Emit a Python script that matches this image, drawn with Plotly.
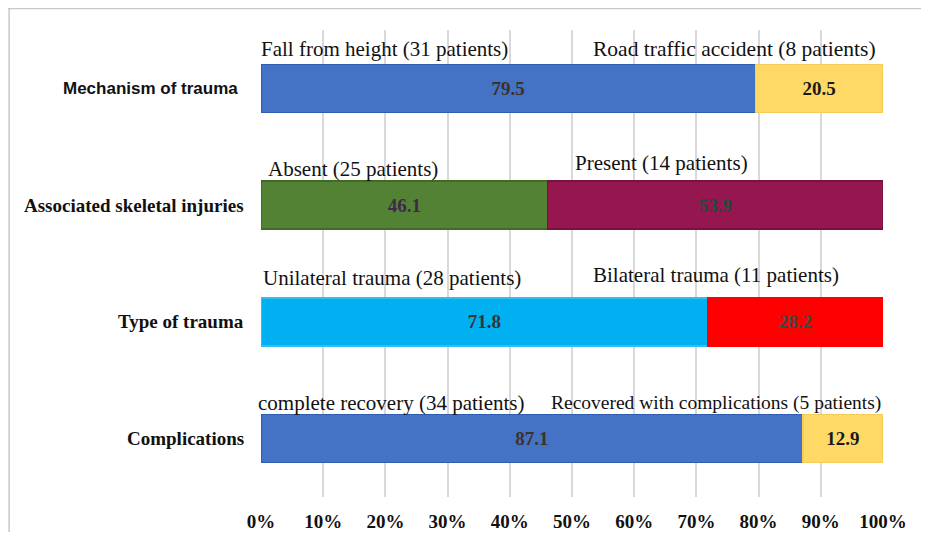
import plotly.graph_objects as go

categories = ["Mechanism of trauma", "Associated skeletal injuries", "Type of trauma", "Complications"]
first_values = [79.5, 46.1, 71.8, 87.1]
second_values = [20.5, 53.9, 28.2, 12.9]
first_labels = ["Fall from height (31 patients)", "Absent (25 patients)",
                "Unilateral trauma (28 patients)", "complete recovery (34 patients)"]
second_labels = ["Road traffic accident (8 patients)", "Present (14 patients)",
                 "Bilateral trauma (11 patients)", "Recovered with complications (5 patients)"]
tick_vals = [0, 10, 20, 30, 40, 50, 60, 70, 80, 90, 100]
tick_text = ["0%", "10%", "20%", "30%", "40%", "50%", "60%", "70%", "80%", "90%", "100%"]

first_colors = ["#4472C4", "#548235", "#00B0F0", "#4472C4"]
first_edges = ["#2F5DB0", "#3F6B25", "#33BDF2", "#2F5DB0"]
first_text = ["#3d3128", "#3d2a4a", "#333333", "#3d3128"]
second_colors = ["#FFD966", "#961650", "#FF0000", "#FFD966"]
second_edges = ["#F5CC55", "#7A1040", "#FF0000", "#F5CC55"]
second_text = ["#1a1a1a", "#1f4a3c", "#3a4a4a", "#1a1a1a"]

serif = "Liberation Serif, Times New Roman, serif"

fig = go.Figure()
fig.add_trace(go.Bar(
    y=categories, x=first_values, orientation="h",
    marker=dict(color=first_colors, line=dict(color=first_edges, width=1.5)),
    text=[f"{v:.1f}" for v in first_values], textposition="inside",
    insidetextanchor="middle", textangle=0,
    textfont=dict(family=serif, size=19, color=first_text, weight="bold"),
    showlegend=False, hoverinfo="skip"))
fig.add_trace(go.Bar(
    y=categories, x=second_values, orientation="h",
    marker=dict(color=second_colors, line=dict(color=second_edges, width=1.5)),
    text=[f"{v:.1f}" for v in second_values], textposition="inside",
    insidetextanchor="middle", textangle=0,
    textfont=dict(family=serif, size=19, color=second_text, weight="bold"),
    showlegend=False, hoverinfo="skip"))

annotations = []
# category labels
for i, c in enumerate(categories):
    fam = "Liberation Sans, Arial, sans-serif" if i == 0 else serif
    size = 17 if i == 0 else 19
    annotations.append(dict(x=0, xref="paper", y=c, yref="y", text=f"<b>{c}</b>",
                            xanchor="right", yanchor="middle", xshift=-15 if i else -21,
                            yshift=0,
                            showarrow=False, font=dict(family=fam, size=size, color="#111111")))
# segment labels above bars
first_x = [0, 1.1, 0.3, -0.5]
first_shift = [39, 36, 44, 36]
second_x = [53.4, 50.5, 53.4, 46.6]
second_shift = [39, 42, 47, 36]
second_size = [21.5, 21, 21, 19.5]
for i, c in enumerate(categories):
    annotations.append(dict(x=first_x[i] / 100, y=c, xref="paper", yref="y", text=first_labels[i],
                            xanchor="left", yanchor="middle", yshift=first_shift[i], xshift=-2,
                            showarrow=False, font=dict(family=serif, size=21, color="#111111")))
    annotations.append(dict(x=second_x[i] / 100, y=c, xref="paper", yref="y", text=second_labels[i],
                            xanchor="left", yanchor="middle", yshift=second_shift[i], xshift=-2,
                            showarrow=False, font=dict(family=serif, size=second_size[i], color="#111111")))

fig.update_layout(
    barmode="stack", bargap=0.59,
    width=913, height=524,
    margin=dict(l=253, r=38, t=22, b=35, autoexpand=False),
    paper_bgcolor="white", plot_bgcolor="white",
    xaxis=dict(range=[0, 100], tickvals=tick_vals, ticktext=tick_text,
               showgrid=True, gridcolor="#D9D9D9", gridwidth=1.5, zeroline=False,
               showline=False, ticks="", ticklabelstandoff=11, automargin=False,
               tickfont=dict(family=serif, size=19, color="#111111", weight="bold"),
               fixedrange=True),
    yaxis=dict(categoryorder="array", categoryarray=categories, autorange="reversed",
               showticklabels=False, showgrid=False, zeroline=False, showline=False,
               ticks="", fixedrange=True, range=[3.5, -0.5], automargin=False),
    annotations=annotations,
    shapes=[
        dict(type="line", xref="paper", yref="paper", x0=-0.41, x1=1.1, y0=1.046, y1=1.046,
             line=dict(color="#C8C8C8", width=1.5)),
        dict(type="line", xref="paper", yref="paper", x0=-0.405, x1=-0.405, y0=1.046, y1=-0.2,
             line=dict(color="#C8C8C8", width=1.5)),
    ],
)

fig.write_html("out.html")
